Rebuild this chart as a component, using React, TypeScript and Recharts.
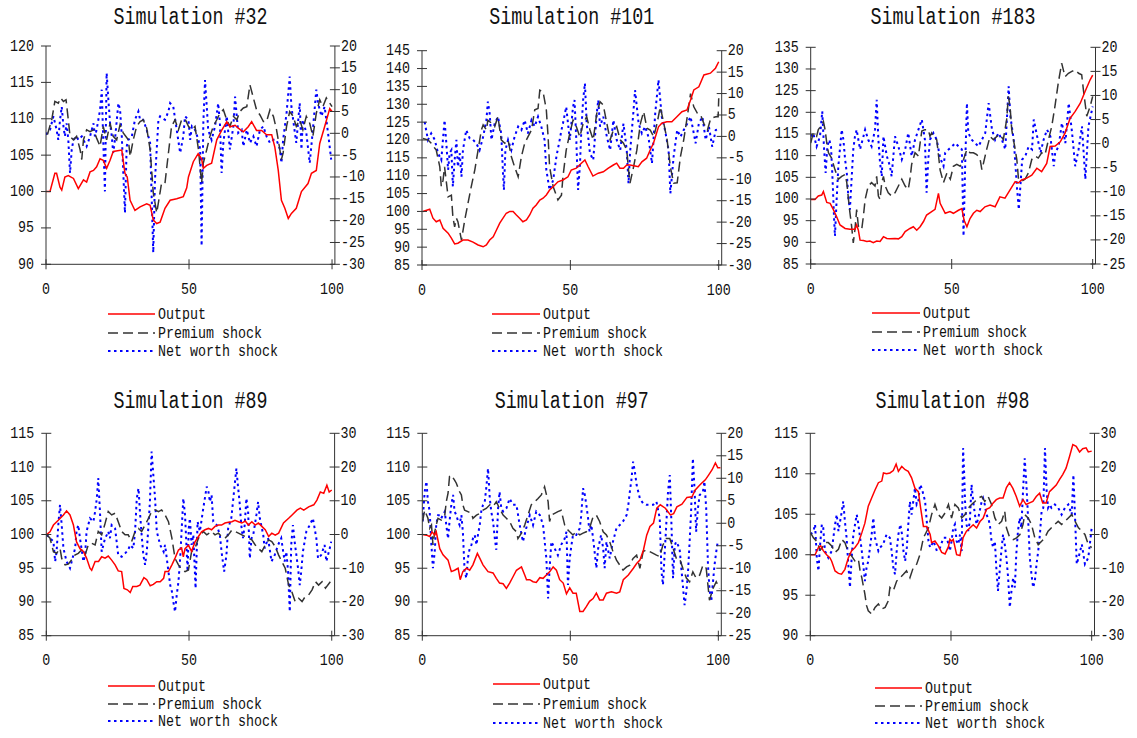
import React from 'react';
import { LineChart, Line, XAxis, YAxis } from 'recharts';

type Pt = [number, number];

// ---------- tick labels ----------
const xTicks = [0, 50, 100];
const sim32LeftTicks = [90, 95, 100, 105, 110, 115, 120];
const sim32RightTicks = [-30, -25, -20, -15, -10, -5, 0, 5, 10, 15, 20];
const sim101LeftTicks = [85, 90, 95, 100, 105, 110, 115, 120, 125, 130, 135, 140, 145];
const sim101RightTicks = [-30, -25, -20, -15, -10, -5, 0, 5, 10, 15, 20];
const sim183LeftTicks = [85, 90, 95, 100, 105, 110, 115, 120, 125, 130, 135];
const sim183RightTicks = [-25, -20, -15, -10, -5, 0, 5, 10, 15, 20];
const sim89LeftTicks = [85, 90, 95, 100, 105, 110, 115];
const sim89RightTicks = [-30, -20, -10, 0, 10, 20, 30];
const sim97LeftTicks = [85, 90, 95, 100, 105, 110, 115];
const sim97RightTicks = [-25, -20, -15, -10, -5, 0, 5, 10, 15, 20];
const sim98LeftTicks = [90, 95, 100, 105, 110, 115];
const sim98RightTicks = [-30, -20, -10, 0, 10, 20, 30];

const seriesNames = ['Output', 'Premium shock', 'Net worth shock'];

// ---------- Simulation #32 ----------
const sim32Output: Pt[] = [[0,100],[1.4,100],[3.1,102.5],[3.7,102.5],[4.9,100.6],[5.5,100.2],[6.6,102],[7.8,102.2],[9.6,101.8],[11.3,100.4],[13.1,101.6],[14.2,101.3],[15.4,102.7],[16.6,102.9],[17.7,103.4],[18.9,104.5],[20,104.3],[21.2,103.2],[22.4,104.3],[23.5,105.5],[26.5,105.7],[27.6,102.5],[28.4,102],[29.4,98.8],[31.1,97.4],[32.9,97.9],[35.2,98.3],[36.4,98.1],[37.5,96.1],[38.7,95.6],[39.9,95.8],[41.6,97.7],[43.4,98.8],[45.7,99],[48,99.3],[49.2,100.5],[49.8,102],[51.5,104.1],[53.2,105.2],[54.4,104.5],[55,103.2],[56.2,103.6],[57.9,103.9],[59.7,107.1],[61.4,108.4],[63.2,109.6],[64.3,108.9],[66.1,109.1],[67.2,108.7],[69,108.2],[70.7,108.9],[71.9,109.6],[73.6,108.4],[75.4,108.4],[77.1,107.8],[78.9,107.8],[80,106.1],[81.2,102.9],[82.3,98.8],[83.5,97.7],[84.7,96.3],[85.8,97],[87.5,97.7],[89.3,100],[91.6,101.1],[92.8,102.5],[94.5,102.9],[95.7,106.6],[97.4,108.9],[99.2,111.4],[100,111]];
const sim32Premium: Pt[] = [[0.5,-0.3],[2,3.1],[3.1,7.3],[4.3,6.9],[5.1,8.1],[6.1,7.3],[7,7.7],[7.8,3.1],[8.4,-0.7],[9.6,-1.5],[10.7,-0.7],[11.9,-3.7],[12.5,-6],[13.1,-1.5],[14.2,0.8],[15.4,0.4],[16.6,0.8],[17.7,-1.1],[18.9,-3],[20,1.6],[21.2,-1.5],[22.4,2.3],[23.5,-0.7],[24.7,-1.5],[25.9,2],[27,0.1],[28.8,-1.5],[29.4,-5.3],[30.5,-1.5],[31.7,1.6],[32.9,2.7],[34,3.1],[35.2,1.2],[36.4,-3.7],[37.5,-13.6],[38.7,-18.2],[39.3,-15.9],[40.4,-11.4],[41.6,-11.4],[42.8,-4.5],[43.9,1.6],[45.1,3.1],[46.3,0.8],[47.4,3.1],[48.6,3.3],[49.8,1.6],[51,0.8],[52.1,1.6],[53.3,-3.7],[54.4,-11.4],[55,-6.8],[56.2,-3.7],[57.3,-0.7],[58.5,1.6],[59.7,3.1],[60.8,4.6],[62,5.4],[63.2,3.1],[64.3,1.6],[65.5,3.9],[66.7,3.1],[67.8,5],[69,5.8],[70.2,6.1],[71.3,11.1],[72.5,8.1],[73.6,5.4],[74.8,4.2],[76,2.7],[77.1,2.7],[78.3,5.4],[79.5,3.9],[80.6,0.8],[81.2,-1.5],[82.3,-6],[82.9,-4.5],[84.1,1.6],[85.2,5],[86.4,3.9],[87.5,1.6],[88.7,3.1],[89.8,0.8],[91,3.9],[92.2,2.3],[93.3,-0.7],[94.5,4.6],[95.7,7.7],[96.8,6.1],[98,8.1],[99.2,6.9],[100,6.1]];
const sim32NetWorth: Pt[] = [[0,-0.3],[1.4,0.8],[2.6,3.9],[3.7,0.8],[4.3,-1.5],[4.9,3.1],[5.5,6.1],[6.1,1.6],[6.6,-0.7],[7.2,2.3],[7.8,-1.5],[8.4,-9.1],[9,-3.7],[9.6,-1.5],[10.7,-0.7],[11.3,-1.5],[12.5,-0.7],[13.1,-1.5],[14.2,-3],[15.4,-0.7],[16.6,2.3],[17.1,-0.7],[17.7,0.8],[18.9,5.4],[19.5,10],[20,-1.5],[20.6,-13.3],[21.2,13.8],[21.8,7.7],[22.4,2.3],[23,-0.7],[23.5,-4.5],[24.1,-1.5],[24.7,2.7],[25.3,6.9],[25.9,5.4],[26.5,-0.7],[27.6,-18.2],[28.2,-3],[28.8,-1.5],[30,-0.7],[31.1,3.1],[32.3,5],[32.9,3.1],[34,3.1],[35.2,0.8],[36.4,-2.2],[37.5,-27.3],[38.1,-10.6],[39.3,3.1],[39.9,3.9],[41.6,3.1],[42.8,5],[43.4,6.9],[44.5,6.1],[45.7,0.8],[46.9,-4.5],[48,-0.7],[48.6,3.9],[49.8,3.1],[50.4,-1.5],[51,1.6],[52.1,0.8],[53.3,-1.5],[53.9,-3.7],[54.4,-25.8],[55,2.3],[55.6,12.2],[56.2,6.1],[56.7,0.8],[57.9,-1.5],[59.1,1.6],[60.2,6.9],[60.8,2.3],[61.4,-9.1],[62,-2.2],[63.2,3.9],[64.3,-3.7],[65.5,1.6],[66.1,8.4],[66.7,3.9],[67.2,0.1],[68.4,0.8],[69,-3],[70.2,0.8],[71.3,-2.2],[72.5,-0.7],[73.6,-3],[74.8,0.8],[76,1.6],[77.1,-0.7],[78.3,-2.2],[79.5,-1.5],[80.6,-1.5],[81.8,-3.7],[82.3,-6.8],[82.9,-1.5],[84.1,4.6],[85.2,13],[85.8,6.1],[86.4,3.1],[87.5,-2.2],[88.7,6.9],[89.3,-3.7],[89.8,3.1],[91,0.1],[92.2,-6.8],[93.3,0.8],[94.5,10],[95.1,6.9],[96.3,3.9],[97.4,6.1],[98.6,0.1],[99.7,-6]];

// ---------- Simulation #101 ----------
const sim101Output: Pt[] = [[0.3,100],[2.6,100.6],[3.7,98.1],[4.8,97.1],[6,97.6],[7.1,95.3],[8.8,93.9],[9.9,92.5],[11,90.9],[12.1,91.1],[13.8,92],[15.5,92],[17.2,91.4],[18.9,90.6],[20.6,90.1],[21.7,90.6],[22.8,92],[24,92.9],[25.1,94.8],[26.2,96.7],[27.3,98.1],[28.4,99.5],[29.6,100],[30.7,100],[31.8,99],[32.9,98.1],[34,97.1],[35.2,97.6],[36.3,99],[37.4,100.9],[38.5,101.8],[39.7,103.2],[40.8,103.7],[41.9,104.6],[43,106],[44.2,106.9],[45.8,108.3],[47.5,108.8],[49.2,109.7],[50.3,111.6],[52,112.1],[53.7,113.5],[54.9,114.4],[56,112.5],[57.6,109.9],[59.4,110.7],[61.1,111.1],[62.8,112.1],[64.5,113],[65.6,113.5],[66.7,112.1],[67.9,112.1],[69,113],[70.1,113],[71.8,112.7],[72.9,112.5],[74.1,113.9],[75.7,114.9],[76.9,117.2],[78,119.1],[79.7,123.7],[80.8,124.7],[82.5,125.1],[84.2,125.1],[85.9,126.5],[87.6,127.9],[89.3,128.4],[90.5,131.2],[91.6,134],[93.3,134.9],[95,138.2],[97.2,138.7],[98.9,140.1],[100,141.9]];
const sim101Premium: Pt[] = [[0.3,-0.5],[2,-0.8],[3.1,-1.6],[4.8,-3.2],[6,-7.1],[6.5,-11.7],[7.1,-10.2],[7.6,-7.1],[8.8,-14.1],[9.9,-13.7],[10.4,-18.7],[11,-21.1],[11.6,-19.1],[12.1,-19.9],[13.3,-24.2],[14.4,-19.5],[15.5,-15.6],[16.6,-11.7],[17.8,-7.8],[18.9,-3.2],[20,1.5],[20.6,2.7],[21.7,1.5],[22.2,3.8],[23.4,3.1],[24.5,2.3],[25.6,4.6],[26.7,-0.8],[27.9,-1.6],[29,-0.8],[30.1,-4.7],[31.2,-7.1],[32.4,-9.4],[33.5,-4.7],[34.6,-1.6],[35.7,-0.1],[36.9,1.5],[38,6.2],[39.1,6.5],[39.7,10.8],[40.8,10.4],[41.9,6.2],[42.5,-0.1],[43,-7.1],[44.2,-11.7],[45.8,-14.8],[47,-13.7],[47.5,-9.4],[48.6,-3.2],[49.8,0.7],[50.9,3.8],[52,2.3],[53.2,-0.1],[54.3,3],[55.5,4.6],[56.6,1.5],[57.7,-0.8],[58.9,5.4],[60,8.1],[61.1,7.3],[62.3,3],[63.4,-0.8],[64.5,1.5],[65.6,2.3],[66.8,-0.8],[67.9,-1.6],[69,-3.2],[69.6,-7.8],[70.1,-10.9],[71.3,-7.1],[72.4,-3.2],[73.6,3],[74.7,5.8],[75.8,1.9],[76.9,1.5],[78.1,-0.1],[79.2,3],[80.3,6.9],[81.5,3],[82.6,-0.8],[83.7,-7.1],[84.8,-10.9],[86,-10.8],[87.1,-4.7],[88.2,-0.8],[89.4,4.6],[90.5,10],[91.6,6.9],[92.8,5.4],[93.9,5],[95,3],[96.2,1.5],[97.3,4.2],[99,4.6],[99.8,4.6],[100,8.9]];
const sim101NetWorth: Pt[] = [[0.9,3.4],[2,-0.8],[3.1,0.7],[4.3,-0.8],[5.4,-3.9],[6.5,-5.5],[7.6,3.8],[8.2,-1.6],[8.8,-7.8],[9.3,-3.9],[9.9,-3.2],[10.4,-11.7],[11,-5.5],[11.6,-0.8],[12.1,-7.1],[12.7,-3.9],[13.3,-9.4],[13.8,-3.2],[14.9,1.5],[16.1,-0.5],[17.2,-0.8],[18.3,-1.6],[19.4,-3.2],[20.6,-0.1],[21.7,3.8],[22.2,8.1],[22.8,5.4],[23.4,-0.8],[24.5,3],[25.6,4.6],[26.7,0.7],[27.3,-8.6],[27.6,-12.5],[28.1,-3.2],[29,-0.8],[30.1,-3.2],[31.2,-0.1],[32.4,2.3],[33.5,1.5],[34.6,3.8],[35.7,0.7],[36.9,3.8],[38,2.3],[39.1,4.6],[40.2,2.3],[41.3,-0.8],[41.9,-7.8],[43,-12.5],[44.2,-10.2],[45.3,-4.7],[46.4,-0.8],[47,1.5],[47.5,3],[48.6,6.9],[49.8,-0.8],[50.9,6.9],[51.4,8.5],[52,-0.8],[52.6,-12.5],[53.2,-7.1],[53.7,1.5],[54.3,8.5],[54.9,12.4],[55.5,3],[56.6,-3.9],[57.7,-5.5],[58.9,5.4],[59.4,8.5],[60,2.3],[61.1,4.6],[62.3,-0.1],[63.4,-3.2],[64.5,3.8],[65.6,-0.8],[66.8,-3.2],[67.9,3],[69,-3.2],[69.6,-11],[70.1,-3.9],[71.3,6.2],[71.8,10.8],[73,3],[74.1,0.7],[75.2,2.3],[76.3,-0.1],[77.5,-6.3],[78.6,5.4],[79.7,13.2],[80.8,4.6],[81.9,1.5],[83.1,-3.2],[83.7,-13.3],[84.8,-4.7],[86,1.5],[87.1,-0.1],[88.2,1.5],[89.4,3],[90.5,4.6],[91.6,0.7],[92.2,-1.6],[93.3,3],[94.5,4.6],[95.6,-0.8],[96.7,2.3],[97.8,-2.4],[99,1.5],[100,1.7]];

// ---------- Simulation #183 ----------
const sim183Output: Pt[] = [[0,99.9],[1.5,99.9],[2.7,100.7],[3.9,100.9],[4.5,101.7],[5.7,99.2],[6.9,99],[8,97.6],[9.2,95.9],[10.4,94],[12.2,93.2],[13.9,93],[15.7,93],[16.3,94],[16.9,92.8],[17.5,90.5],[18.7,90.4],[19.9,90.2],[21,90.3],[22.2,89.9],[23.4,90.3],[24.6,90.2],[25.8,91.3],[27,90.9],[28.1,90.8],[29.9,90.9],[31.1,90.8],[32.3,91.3],[33.5,92.5],[35.2,93.2],[36.4,93.6],[37.6,92.8],[38.8,93.6],[40,94.8],[41.1,96.3],[42.9,97.1],[44.1,97.6],[45.3,101.3],[45.9,99],[47.7,96.7],[49.4,97.1],[50.6,96.7],[52.4,97.4],[53.6,97.8],[54.4,95.1],[55.4,93.6],[56.5,95.5],[57.7,96.7],[58.9,97.4],[60.1,97.1],[61.8,98.2],[63.6,98.6],[65.4,98.2],[67.1,100.5],[68.9,100.2],[70.7,102.1],[72.5,104],[73.6,103.7],[74.8,104.4],[76.6,104.8],[78.4,105.5],[80.2,107.1],[81.9,106.3],[83.7,108.2],[84.9,112.1],[86.7,112.2],[88.5,113.2],[90.2,115.2],[92,118.6],[93.8,120.2],[95.6,122.1],[97.3,124.8],[99.1,127.5],[100,128.6]];
const sim183Premium: Pt[] = [[0,0.1],[0.9,2.2],[2.1,1.5],[2.7,2.9],[3.9,3.9],[4.5,4.6],[5.1,2.9],[5.7,0.1],[6.3,-1.9],[7.4,-3],[8.6,-5.4],[9.8,-7.4],[11,-6.8],[12.2,-6.4],[12.8,-8.1],[13.4,-11.6],[13.9,-14.3],[14.5,-17.1],[15.1,-20.6],[15.7,-17.8],[16.3,-13.7],[16.9,-17.1],[18.1,-17.8],[18.7,-15],[19.3,-11.6],[20.4,-8.8],[21.6,-8.1],[22.8,-8.8],[23.4,-6.8],[24,-10.9],[24.6,-11.6],[25.2,-8.1],[25.8,-6.8],[26.4,-8.8],[27.5,-10.2],[28.7,-10.9],[29.9,-10.2],[31.1,-8.8],[32.3,-7.4],[33.5,-8.8],[34.6,-9.5],[35.2,-7.4],[35.8,-4.3],[37,-1.9],[38.2,-2.6],[38.8,0.1],[39.4,2.6],[40.5,2.9],[41.7,2.9],[42.3,1.5],[42.9,2.2],[43.5,1.5],[44.7,0.8],[45.9,-5.5],[47.1,-8.1],[48.3,-6.1],[49.5,-7.4],[50.6,-4.7],[51.8,-4.3],[53,-4.7],[54.2,-3.3],[55.4,-1.2],[56.5,-1.9],[57.7,-1.9],[58.9,-2.3],[60.1,-3.3],[60.7,-5.4],[61.3,-4],[62.4,-1.2],[63.6,1.5],[64.8,0.8],[66,1.5],[67.1,1.9],[68.3,0.8],[69.5,5],[70.1,9.8],[70.7,7.7],[71.3,2.9],[72.5,-1.2],[73.1,-3.3],[73.7,-7.4],[74.8,-7.8],[76,-7.4],[77.2,-6.1],[78.4,-3.3],[79.6,-2.6],[80.7,-3],[81.9,-1.9],[83.1,-2.3],[84.3,0.8],[85.5,3.6],[86.6,7.7],[87.8,12.6],[89,16.7],[90.2,13.9],[91.4,14.6],[92.6,15],[93.8,15.3],[95,14.6],[96.1,14.3],[96.7,11.2],[97.9,5.7],[99.1,7.7],[100,9.8]];
const sim183NetWorth: Pt[] = [[0,1.5],[0.9,2.2],[2.1,-0.6],[3.3,1.5],[4.1,6.7],[4.7,-0.6],[5.3,-6.1],[5.9,-0.6],[6.6,0.8],[7.2,-0.6],[7.8,-8.1],[8.3,-15.7],[8.6,-19.2],[9.2,-11.6],[9.8,-4.7],[11,2.9],[11.6,0.8],[12.2,-3.3],[12.8,-6.1],[13.4,-11.6],[13.9,-13.7],[14.5,-7.4],[15.1,-1.2],[15.7,1.5],[16.3,2.9],[16.9,0.8],[17.5,-1.2],[18.7,1.5],[19.3,2.9],[20.4,0.8],[21.6,-0.6],[22.8,2.9],[23.4,9.1],[24,0.8],[24.6,-4],[25.2,-6.8],[25.8,1.5],[27,-2.6],[28.1,-4.7],[28.7,-6.8],[29.9,1.5],[31.1,-0.6],[32.3,-3.3],[33.5,-1.2],[34.6,2.2],[35.8,-2.6],[37,0.8],[38.2,2.9],[39.4,5],[40.5,0.8],[41.1,-10.2],[41.7,-3.3],[42.3,0.8],[43.5,2.2],[44.7,0.8],[45.9,-3],[47.1,-4.7],[47.7,-1.9],[48.9,-1.2],[50.1,-0.6],[51.3,0.1],[52.5,-0.6],[53.6,-1.2],[54.2,-19.2],[54.8,-4],[55.4,8.4],[55.9,2.2],[57.1,0.8],[58.3,0.1],[59.5,-0.6],[60.7,0.8],[61.9,2.2],[63.1,8.4],[64.3,2.9],[65.4,0.8],[66.6,2.2],[67.8,0.8],[69,-1.2],[70.2,11.9],[70.8,5.7],[72,0.8],[73.2,-9.5],[73.8,-13.7],[75,-3.3],[76.1,-2.6],[77.3,-0.6],[78.5,-1.2],[79.1,5],[80.3,1.5],[81.5,-1.9],[82.6,0.8],[83.8,2.9],[85,1.5],[86.2,-4.7],[86.7,-1.9],[87.9,-0.6],[89.1,4.3],[90.3,0.1],[91.5,8.4],[92.7,2.2],[93.8,-4.7],[95,-1.2],[96.2,3.6],[97.4,-7.4],[98.5,3.6],[100,7.7]];

// ---------- Simulation #89 ----------
const sim89Output: Pt[] = [[0.1,100],[1.3,100.4],[2.5,101.4],[4.2,102.1],[6,102.9],[7.1,103.5],[8.3,102.9],[9.5,101.4],[10.6,98.9],[11.8,97.9],[13,97.5],[14.1,96.5],[15.3,95],[15.9,94.7],[17.1,96],[18.3,96],[19.4,96.7],[20.6,96.5],[21.7,96.8],[22.9,96.2],[24.1,95.5],[25.2,94.6],[26.4,94.5],[27.2,92],[28.4,91.8],[29.4,91.4],[30.3,92.3],[31.7,92.3],[32.8,92.5],[34.2,93.6],[35.2,93.3],[36.4,92.4],[37.5,92.6],[38.7,93],[39.9,93],[41.1,93.5],[41.6,94.5],[42.8,94.5],[44,95.5],[45.1,96.5],[46.3,97.7],[47.4,98],[48,96.7],[48.6,97.9],[49.8,98.4],[50.9,97.5],[52.1,98.9],[53.3,99.7],[54.4,100.4],[55.6,100.7],[56.8,100.9],[57.9,100.7],[59.1,101.2],[60.3,101.4],[61.4,101.4],[62.6,101.7],[63.8,101.8],[65,101.9],[66.1,102.1],[67.3,101.9],[68.5,101.7],[69.7,102],[70.8,101.4],[72,101.9],[73.2,101.4],[74.3,101.7],[75.5,101.2],[76.7,100.7],[77.9,99.7],[79,100.2],[80.2,99.9],[81.4,100.2],[83.1,101.7],[84.9,102.4],[86.1,102.9],[87.8,103.6],[89,103.9],[90.2,103.6],[91.9,104.1],[93.7,104.4],[94.8,105.1],[96,106.3],[97.2,106.1],[98.3,107.3],[99.1,106.3],[100,106.6]];
const sim89Premium: Pt[] = [[0.1,0],[1.3,-1.1],[2.5,-5.1],[3.6,-5.6],[4.8,-4.1],[5.4,-7.1],[6.6,-9],[7.7,-8.8],[8.9,-7.5],[10,-6.1],[11.2,-5.6],[12.4,-4.6],[13.6,-6.1],[14.7,-3.1],[15.9,-2.6],[17.1,-3.1],[18.2,0.9],[19.4,-0.1],[20.6,3.3],[21.7,6.8],[22.9,5.8],[24.1,6.3],[25.2,3.8],[26.4,0.9],[27.6,-0.1],[28.7,-0.1],[29.9,-2.1],[31.1,0.9],[32.3,1.8],[33.4,0.9],[34.6,2.8],[35.8,4.8],[36.9,6.8],[38.1,7.3],[39.3,6.8],[40.4,7.3],[41.6,5.8],[42.8,3.8],[44,-1.1],[45.1,-7.1],[46.3,-9],[47.5,-10.5],[48.6,-11],[49.8,-10.5],[50.9,-5.1],[52.1,-4.1],[53.3,-1.1],[55,0.9],[56.2,-0.1],[57.9,0.9],[59.1,-0.1],[60.3,0.4],[61.4,-0.6],[62.6,-1.1],[63.8,-0.1],[65,1.3],[66.1,0.9],[67.3,0.4],[68.5,-0.1],[69.7,-0.6],[70.8,-1.1],[72,-1.6],[73.2,-3.1],[74.3,-4.1],[75.5,-5.1],[76.7,-3.1],[77.9,-1.6],[79,-2.1],[80.2,-3.6],[81.4,-6.1],[82.5,-8],[83.7,-10],[84.9,-15],[86,-16.9],[87.2,-19.9],[88.4,-18.9],[89.6,-19.9],[90.7,-18.4],[91.9,-17.9],[93.1,-16.4],[94.3,-14],[95.4,-15],[96.6,-14],[97.8,-15.9],[99.5,-14]];
const sim89NetWorth: Pt[] = [[0.1,-0.1],[1.3,-1.1],[2.5,-2.1],[3.1,-8],[3.6,-5.1],[4.2,2.8],[4.8,8.8],[5.4,2.8],[6,-4.1],[7.1,-8],[8.3,-10],[8.9,-8],[10.1,-4.1],[10.6,0.9],[11.2,2.8],[11.8,-1.1],[13,-8],[13.6,-6.1],[14.1,0.9],[15.3,4.8],[16.5,3.8],[17.1,6.8],[17.7,10.7],[18.2,16.7],[18.8,6.8],[19.4,-5.1],[20,-3.1],[20.6,-1.1],[21.2,-0.1],[21.7,0.9],[22.3,-1.1],[22.9,2.8],[24.1,1.8],[25.2,-6.1],[26.4,-6.6],[27.6,-5.6],[28.7,-4.6],[29.3,-3.1],[30.5,-4.1],[31.1,0.9],[31.7,10.7],[32.3,13.7],[32.8,6.8],[33.4,-0.1],[34,-6.1],[34.6,-9],[35.2,-5.1],[35.8,2.8],[36.3,9.7],[36.9,24.6],[37.5,17.6],[38.1,10.7],[38.7,0.9],[39.9,-3.1],[41.1,-5.1],[41.6,-3.1],[42.8,-11],[43.4,-15],[44,-16.9],[44.5,-19.9],[45.1,-22.9],[45.7,-17.9],[46.3,-14],[46.9,-7.1],[47.5,2.8],[48,10.7],[48.6,5.8],[49.2,-5.1],[49.5,-11],[49.9,1.8],[50.3,4.8],[50.9,-3.1],[51.5,-0.1],[52.1,-12],[52.3,-16],[53,3.8],[53.8,0.9],[55,7.8],[56.2,14.2],[56.8,12.7],[57.3,9.7],[57.9,11.7],[58.5,3.8],[59.7,2.8],[60.8,-0.1],[61.4,-5.1],[62.3,-11],[63.1,-6.1],[63.7,1.8],[64.8,4.8],[65.4,9.7],[66.6,19.6],[67.1,14.7],[67.7,9.7],[68.3,2.8],[68.9,-1.1],[69.5,2.8],[70.1,10.7],[70.7,6.8],[71.3,-7.1],[71.9,-1.1],[72.5,-0.1],[73.6,5.8],[74.2,9.7],[74.8,4.8],[76,-0.1],[76.5,-4.1],[77.7,-1.1],[78.9,-8],[80,-6.1],[81.2,-3.1],[82.3,-1.1],[83.5,-8],[84.1,-5.1],[84.7,-11],[85.3,-22.9],[85.8,-3.1],[86.4,2.8],[87,-2.1],[88.2,-10],[88.8,-15],[89.3,-11],[89.9,-5.1],[91.1,0.9],[92.3,2.8],[93.4,4.8],[94.6,-1.1],[95.2,-7.1],[96.3,-6.1],[97.5,-3.1],[98.1,-8],[99.3,-4.1],[99.8,-2.1]];

// ---------- Simulation #97 ----------
const sim97Output: Pt[] = [[0.1,100],[1.4,99.9],[2.5,99.7],[3.3,100.4],[4.2,99.9],[4.7,100.4],[5.9,97.9],[7,97],[8.7,96.2],[9.8,94.5],[10.9,94.7],[12.1,95],[12.8,93.3],[13.7,94.5],[14.9,95],[16,94.7],[17.1,95.5],[18.6,97.2],[19.4,96.5],[20.5,95.5],[22.2,94.5],[23.9,94.3],[25,93.5],[26.1,92.8],[27.3,92.7],[28.4,92],[29.5,92.8],[30.6,93.7],[31.8,94.7],[33.5,95.2],[34.6,94],[35.2,93.3],[36.3,93.3],[37.4,93],[38.5,92.9],[39.7,93.6],[40.8,93.5],[41.9,94],[43.1,94.5],[44.2,95.2],[45.3,94.7],[46.4,93.3],[47.6,92.8],[48.7,91.2],[49.8,92.1],[50.9,91.3],[52,91.3],[53.2,88.6],[54.3,88.6],[55.4,89.3],[56.5,90.1],[57.7,90.5],[58.8,91.3],[59.9,90.3],[61.1,90.3],[62.2,91.3],[63.9,91.5],[65.6,91.3],[66.7,91.5],[67.9,93.3],[69.6,94],[71.3,95],[72.4,95.7],[73.5,96.2],[74.7,97.7],[75.8,99.9],[76.9,101.2],[78.1,101.7],[79.2,103.9],[80.4,104.4],[82.1,103.9],[83.8,102.9],[84.9,103.1],[86,104.1],[87.7,104.5],[89.4,105.5],[91.1,105.6],[92.2,106.6],[93.9,107.4],[95.6,108.1],[96.7,108.8],[97.9,109.6],[99,110.6],[99.8,109.9],[100.7,109.9]];
const sim97Premium: Pt[] = [[0.1,0.4],[0.8,2.9],[1.9,1.1],[2.5,-1.1],[3.1,-0.4],[3.6,-4.8],[4.2,-1.9],[4.7,-0.4],[5.3,1.1],[6.4,0.7],[7.6,1.8],[8.1,4.8],[8.7,6.7],[9.2,10.4],[9.8,10.7],[10.9,9.6],[11.5,8.9],[12.6,7],[13.2,6.3],[13.7,4.1],[14.3,2.9],[15.4,2.6],[16.6,2.2],[17.1,1.1],[18.3,1.8],[19.4,2.2],[20.5,2.9],[21.6,3.3],[22.8,4.1],[23.9,3.7],[25,4.8],[26.1,3.3],[27.3,1.8],[28.4,1.1],[29.5,0.4],[30.6,-1.1],[31.8,-1.9],[32.3,-3.4],[33.5,-2.2],[34.6,-0.4],[35.7,1.8],[36.8,4.1],[38,4.8],[39.1,5.5],[40.2,6.3],[41.3,8.1],[42.5,4.8],[43,0.4],[43.6,1.8],[44.7,2.2],[45.8,2.6],[46.9,2.9],[48.1,-0.4],[49.2,-1.5],[49.8,-1.9],[50.9,-2.6],[52,-1.9],[53.2,-2.6],[54.3,-2.2],[55.4,-1.9],[56.5,-1.1],[57.7,1.5],[58.8,1.8],[59.9,0.4],[61.1,-1.9],[62.2,-2.6],[63.3,-4.1],[64.4,-6.3],[65.6,-8.2],[66.7,-9.3],[67.8,-10.4],[69,-9.7],[70.1,-9.3],[71.2,-7.8],[72.4,-7.1],[73.5,-10],[74.6,-6.3],[75.7,-5.9],[76.8,-6.3],[78,-6.7],[79.1,-7.1],[80.2,-7.4],[81.3,-4.8],[82.4,-3.4],[83.6,-3.4],[84.7,-5.6],[85.8,-7.8],[86.9,-7.8],[88,-10],[89.2,-12.2],[90.3,-13],[91.4,-10.8],[92.5,-12.2],[93.7,-11.5],[94.8,-9.3],[95.9,-10],[97,-17.1],[98.2,-14.5],[99.3,-13],[100.4,-14.5]];
const sim97NetWorth: Pt[] = [[0.1,0.4],[0.8,7],[1.4,9.3],[1.9,4.8],[2.5,2.6],[3,-4.1],[3.6,-10],[4.2,-6.3],[4.7,-0.4],[5.3,1.8],[5.9,1.8],[6.4,1.1],[7.6,2.6],[8.1,-0.4],[8.7,-3.4],[9.2,0.4],[9.8,4.1],[10.4,6.3],[10.9,2.6],[11.5,1.8],[12.1,0.4],[12.6,-0.4],[13.2,1.8],[13.7,-1.9],[14.3,-10.8],[14.9,-12.2],[15.4,-7.8],[16,-5.6],[16.6,-4.8],[17.1,-3.4],[17.7,-2.6],[18.3,-4.8],[18.8,-2.6],[19.4,-0.4],[19.9,2.6],[20.5,4.1],[21.1,4.8],[21.6,7.8],[22.2,12.2],[22.8,5.5],[23.3,2.6],[23.9,0.4],[24.5,-3.4],[25,-5.9],[25.6,3.3],[26.1,7],[26.7,3.3],[27.3,2.6],[28.4,3.3],[29.5,5.5],[30.6,4.1],[31.8,4.1],[32.9,-0.4],[34,-4.1],[35.1,-1.1],[36.3,1.8],[37.4,-0.4],[38.5,2.6],[39.7,1.8],[40.8,-0.4],[41.9,-7.8],[42.5,-16.7],[43,-10],[43.6,-4.1],[44.7,-5.6],[45.8,-7.1],[46.9,-4.8],[48.1,-3.4],[48.7,-1.9],[49.2,-13.7],[49.8,-7.8],[50.4,-4.8],[50.9,-2.6],[52,-2.6],[53.2,-1.1],[53.7,1.8],[54.3,7.8],[54.9,6.3],[55.4,4.1],[56,1.1],[56.5,-1.9],[57.1,-0.4],[57.7,-3.4],[58.2,-6.3],[58.8,-10],[59.4,-5.6],[59.9,-4.1],[60.4,-2.6],[61.1,-5.6],[61.6,-10],[62.2,-4.1],[63.3,-7.8],[64.4,-4.1],[65.6,-1.1],[66.7,-0.4],[67.8,0.4],[69,1.8],[69.6,4.1],[70.1,7],[70.7,10],[71.2,13.7],[71.8,11.5],[72.4,8.5],[73.5,5.5],[74.6,4.4],[75.7,4.1],[76.8,4.1],[78,4.1],[79.1,4.8],[80.2,1.1],[80.8,-10.8],[81.3,-13.7],[81.9,-6.3],[82.4,-0.4],[83,7],[83.6,10.7],[84.1,1.1],[84.7,-12.2],[85.3,-4.8],[85.8,-4.1],[86.9,-5.6],[88,-13.7],[88.6,-18.2],[89.2,-15.2],[89.7,-11.5],[90.3,-4.1],[90.8,2.6],[91.4,14.4],[92,7],[92.5,-1.9],[93.1,3.3],[93.7,6.3],[94.8,7],[95.3,9.3],[95.9,3.3],[96.5,-9.3],[97,-14.5],[97.6,-17.4],[98.2,-13],[98.7,-9.3],[99.3,-6.3],[99.8,-4.1]];

// ---------- Simulation #98 ----------
const sim98Output: Pt[] = [[0.1,100],[1.7,100],[2.9,100.9],[3.7,101.1],[4.6,100.5],[5.8,100],[7,99.6],[7.6,99.2],[8.8,98],[10,97.7],[11.1,97.6],[12.3,98.2],[13.5,99.6],[14.7,100.5],[15.9,100.9],[17.1,101.5],[18.3,102.7],[19.4,103.9],[20.6,106],[21.8,107],[23,108],[24.2,108.9],[25.4,109.1],[26,110.1],[27.1,110],[28.3,110.1],[29.5,110.4],[30.5,111.2],[31.3,110.3],[32.5,110.9],[33.7,110.5],[34.8,110.3],[36,109.5],[37.2,108.2],[38.4,107.8],[39.2,105.8],[40.2,103.5],[41.4,103.5],[42.6,102.5],[43.1,101.5],[44.3,101.7],[45.5,101.1],[46.7,100.3],[47.9,100.1],[49.1,101],[49.6,101.9],[50.2,101.7],[50.8,101.9],[52,100],[53.2,99.9],[54.3,102.1],[55.5,102.9],[56.7,103.3],[57.9,103.7],[59.1,103.3],[60.3,104.1],[61.4,104.5],[62.6,105.6],[63.8,105.8],[65,106.4],[66.1,106.8],[67.3,107],[68.5,107],[69.7,108.3],[70.8,108.9],[72,108.2],[73.2,107.2],[74.4,106],[75.6,106.8],[76.7,106.2],[77.9,106.4],[79.1,106.6],[80.3,107.2],[81.5,107.6],[82.6,106.4],[83.8,106.4],[85,107.8],[86.2,108.2],[87.4,108.6],[88.6,109.3],[89.7,109.9],[90.9,110.7],[92.1,112.1],[93.3,113.6],[94.5,113.4],[95.7,112.7],[96.8,113.1],[98,113.2],[98.8,112.7],[100,112.8]];
const sim98Premium: Pt[] = [[0.1,0.5],[1.1,-1],[2.3,-2],[3.5,-4.6],[4.1,-4.1],[5.2,-2.4],[6.4,-2.4],[7.6,-3.4],[8.8,-5.3],[10,-4.4],[11.2,-1.5],[12.3,-2.4],[13.5,-5.3],[14.7,-6.4],[15.9,-7.9],[17.1,-7.4],[17.7,-10.8],[18.3,-12.8],[19.4,-17.7],[20,-21.1],[20.6,-22.6],[21.8,-23.6],[23,-21.6],[24.2,-20.6],[25.4,-22.1],[26.6,-21.6],[27.7,-19.7],[28.3,-15.7],[29.5,-16.7],[30.7,-13.8],[31.9,-12.8],[33.1,-11.8],[34.2,-10.8],[35.4,-12.8],[36.6,-9.8],[37.8,-8.8],[39,-5.9],[40.2,-1],[40.8,0],[42,2],[43.1,5.9],[44.3,8.9],[45.5,5.9],[46.7,4.9],[47.9,6.4],[49.1,8.9],[50.2,4.9],[51.4,8.9],[52.6,7.9],[53.8,4.9],[55,5.9],[56.2,7.9],[57.3,8.9],[58.5,9.8],[59.7,10.8],[60.9,11.3],[62,9.8],[63.2,11.3],[64.4,8.9],[65.6,4.9],[66.8,3],[68,3.9],[69.1,6.9],[69.7,2],[70.9,-1],[72.1,-1.5],[73.3,-1],[74.5,0],[75.6,3],[76.2,5.9],[77.4,4.9],[78.6,3],[79.8,-1],[81,-3],[82.2,-2],[83.3,-1],[84.5,1],[85.7,2],[86.9,3],[88.1,3.9],[89.3,3],[90.5,3.9],[91.7,4.9],[92.9,5.9],[94.1,3.9],[95.3,2],[96.5,1],[97.6,0],[98.8,-3],[100,-3.9]];
const sim98NetWorth: Pt[] = [[0.1,0],[1.1,1],[1.7,3],[2.3,-6.9],[2.9,-10.8],[3.4,-3.9],[4.1,3],[4.6,2],[5.2,-4.9],[6.4,-6.9],[7.6,-4.9],[8.8,3],[9.4,5.9],[10,1],[11.2,6.9],[11.7,9.8],[12.3,3.9],[12.9,-1],[13.5,-8.8],[14.1,-15.7],[14.7,-6.9],[15.3,0],[15.9,3],[16.5,5.9],[17.1,3],[17.7,-1],[18.3,-4.9],[18.8,-8.8],[19.4,-13.8],[20,-9.8],[20.6,-7.9],[21.2,-3.9],[21.8,0],[22.4,4.9],[23,-1],[24.2,-4.9],[24.8,-3.9],[25.9,-2.9],[27.1,0],[28.3,-1],[28.9,-4.9],[29.5,-9.8],[30.1,-11.8],[30.7,-4.9],[31.3,0],[32,3],[32.6,0],[33.1,-4.9],[33.7,-7.9],[34.3,-3.9],[34.9,3.9],[35.4,9.8],[36,5.9],[37.2,13.8],[37.8,8.9],[38.4,9.8],[39,14.8],[39.6,13.8],[40.2,11.8],[40.8,9.8],[41.4,3.9],[42,-2],[42.6,-3.9],[43.8,-2],[45,-4.9],[46.1,-3.9],[47.3,-1],[48.5,-1],[49.1,-2.9],[49.6,-4.9],[50.2,-2],[50.8,2],[51.4,3],[52,-2],[52.6,-2.9],[53.2,0],[53.8,-4.9],[54.3,25.6],[54.7,17.7],[55,9.8],[55.5,3],[56.1,1],[56.7,3.9],[57.3,14.8],[57.9,9.8],[58.5,5.9],[59.1,3],[59.7,4.9],[60.9,9.8],[61.4,10.8],[62,8.9],[62.6,5.9],[63.2,4.9],[63.8,3],[64.4,-2],[65,-3.9],[65.6,-2],[66.1,-9.8],[66.7,-16.7],[67.3,-10.8],[67.9,-4.9],[68.5,0],[69.1,-2.9],[69.7,-6.9],[70.3,-12.8],[70.9,-21.6],[71.5,-16.7],[72.1,-12.8],[72.7,-15.7],[73.2,-5.9],[73.8,1],[74.4,4.9],[75,2],[75.6,12.8],[76.2,22.6],[76.8,14.8],[77.4,4.9],[78,-6.9],[78.6,-11.8],[79.2,-15.7],[79.8,-13.8],[80.4,-8.8],[81,-4.9],[81.6,0],[82.2,6.9],[82.8,7.9],[83.4,25.6],[84,12.8],[84.5,7.9],[85.1,8.9],[85.7,7.9],[86.9,8.9],[88.1,7.9],[89.3,5.9],[90.5,7.9],[91.7,8.9],[92.9,5.9],[93.5,17.7],[94.1,4.9],[94.7,-8.8],[95.3,-6.9],[96.5,-2.9],[97.6,-8.8],[98.8,-6.9],[100,2]];

// ---------- layout / style ----------
const W = 1137;
const H = 738;
const FONT = "'Liberation Mono', 'DejaVu Sans Mono', monospace";
const AXIS = '#333333';
const RED = '#ff0000';
const DARK = '#333333';
const BLUE = '#0000ff';
const BLUE_DASH = '2.5 3.5';
const DARK_DASH = '10 5';

type Layout = { L: number; R: number; T: number; B: number; titleY: number; lx1: number; lx2: number; tx: number; ly: number[] };

type PanelCfg = {
  title: string;
  leftTicks: number[];
  rightTicks: number[];
  output: Pt[];
  premium: Pt[];
  netWorth: Pt[];
  lay: Layout;
};

const panels: PanelCfg[] = [
  { title: 'Simulation #32', leftTicks: sim32LeftTicks, rightTicks: sim32RightTicks, output: sim32Output, premium: sim32Premium, netWorth: sim32NetWorth,
    lay: { L: 46, R: 334.9, T: 46, B: 264.3, titleY: 18, lx1: 108, lx2: 155, tx: 158, ly: [314, 333, 351] } },
  { title: 'Simulation #101', leftTicks: sim101LeftTicks, rightTicks: sim101RightTicks, output: sim101Output, premium: sim101Premium, netWorth: sim101NetWorth,
    lay: { L: 422, R: 721.7, T: 50.7, B: 265, titleY: 18, lx1: 492, lx2: 540, tx: 543, ly: [314, 333, 351] } },
  { title: 'Simulation #183', leftTicks: sim183LeftTicks, rightTicks: sim183RightTicks, output: sim183Output, premium: sim183Premium, netWorth: sim183NetWorth,
    lay: { L: 810.7, R: 1095.5, T: 47.3, B: 264, titleY: 18, lx1: 872, lx2: 920, tx: 923, ly: [313, 332, 350] } },
  { title: 'Simulation #89', leftTicks: sim89LeftTicks, rightTicks: sim89RightTicks, output: sim89Output, premium: sim89Premium, netWorth: sim89NetWorth,
    lay: { L: 46.3, R: 334.6, T: 433.3, B: 635.7, titleY: 402, lx1: 108, lx2: 155, tx: 158, ly: [686, 704, 721] } },
  { title: 'Simulation #97', leftTicks: sim97LeftTicks, rightTicks: sim97RightTicks, output: sim97Output, premium: sim97Premium, netWorth: sim97NetWorth,
    lay: { L: 422.3, R: 721.3, T: 433.3, B: 635.7, titleY: 402, lx1: 493, lx2: 540, tx: 543, ly: [684, 704, 723] } },
  { title: 'Simulation #98', leftTicks: sim98LeftTicks, rightTicks: sim98RightTicks, output: sim98Output, premium: sim98Premium, netWorth: sim98NetWorth,
    lay: { L: 810.3, R: 1094.5, T: 433.3, B: 635.7, titleY: 402, lx1: 875, lx2: 922, tx: 925, ly: [688, 706, 723] } },
];

function MonoText(props: { x: number; y: number; text: string; size: number; cw: number; anchor?: 'start' | 'middle' | 'end' }) {
  const { x, y, text, size, cw, anchor = 'start' } = props;
  return (
    <text x={x} y={y} fontFamily={FONT} fontSize={size} textAnchor={anchor} fill="#111" dominantBaseline="central"
      textLength={text.length * cw} lengthAdjust="spacingAndGlyphs">{text}</text>
  );
}

const toData = (pts: Pt[]) => pts.map(([x, y]) => ({ x, y }));

const AXW = 40;

function Panel({ cfg }: { cfg: PanelCfg }) {
  const { L, R, T, B } = cfg.lay;
  const lDom: [number, number] = [cfg.leftTicks[0], cfg.leftTicks[cfg.leftTicks.length - 1]];
  const rDom: [number, number] = [cfg.rightTicks[0], cfg.rightTicks[cfg.rightTicks.length - 1]];
  const leftTick = (p: any) => (
    <g>
      <line x1={L - 5} x2={L + 5} y1={p.y} y2={p.y} stroke={AXIS} strokeWidth={1} />
      <MonoText x={L - 12} y={p.y} text={String(p.payload.value)} size={17} cw={8} anchor="end" />
    </g>
  );
  const rightTick = (p: any) => (
    <g>
      <line x1={R - 5} x2={R + 5} y1={p.y} y2={p.y} stroke={AXIS} strokeWidth={1} />
      <MonoText x={R + 6} y={p.y} text={String(p.payload.value)} size={17} cw={8} anchor="start" />
    </g>
  );
  const bottomTick = (p: any) => (
    <g>
      <line x1={p.x} x2={p.x} y1={B - 5} y2={B + 5} stroke={AXIS} strokeWidth={1} />
      <MonoText x={p.x} y={B + 25} text={String(p.payload.value)} size={17} cw={8} anchor="middle" />
    </g>
  );
  return (
    <div style={{ position: 'absolute', left: 0, top: 0 }}>
      <LineChart width={W} height={H} margin={{ left: L - AXW, right: W - R - AXW, top: T, bottom: H - B - 30 }}>
        <XAxis xAxisId="x" type="number" dataKey="x" domain={[0, 101]} ticks={xTicks} interval={0} height={30}
          allowDataOverflow axisLine={{ stroke: AXIS }} tickLine={false} tick={bottomTick} />
        <YAxis yAxisId="L" orientation="left" type="number" width={AXW} domain={lDom} ticks={cfg.leftTicks} interval={0}
          allowDataOverflow axisLine={{ stroke: AXIS }} tickLine={false} tick={leftTick} />
        <YAxis yAxisId="R" orientation="right" type="number" width={AXW} domain={rDom} ticks={cfg.rightTicks} interval={0}
          allowDataOverflow axisLine={{ stroke: AXIS }} tickLine={false} tick={rightTick} />
        <Line xAxisId="x" yAxisId="R" data={toData(cfg.netWorth)} dataKey="y" type="linear" stroke={BLUE} strokeWidth={2}
          strokeDasharray={BLUE_DASH} dot={false} activeDot={false} isAnimationActive={false} />
        <Line xAxisId="x" yAxisId="R" data={toData(cfg.premium)} dataKey="y" type="linear" stroke={DARK} strokeWidth={1.5}
          strokeDasharray={DARK_DASH} dot={false} activeDot={false} isAnimationActive={false} />
        <Line xAxisId="x" yAxisId="L" data={toData(cfg.output)} dataKey="y" type="linear" stroke={RED} strokeWidth={1.5}
          dot={false} activeDot={false} isAnimationActive={false} />
      </LineChart>
    </div>
  );
}

function Overlay() {
  return (
    <svg width={W} height={H} style={{ position: 'absolute', left: 0, top: 0, pointerEvents: 'none' }}>
      {panels.map((p, i) => {
        const { L, R, titleY, lx1, lx2, tx, ly } = p.lay;
        return (
          <g key={i}>
            <MonoText x={(L + R) / 2} y={titleY} text={p.title} size={23} cw={11} anchor="middle" />
            <line x1={lx1} x2={lx2} y1={ly[0]} y2={ly[0]} stroke={RED} strokeWidth={1.5} />
            <line x1={lx1} x2={lx2} y1={ly[1]} y2={ly[1]} stroke={DARK} strokeWidth={1.5} strokeDasharray={DARK_DASH} />
            <line x1={lx1} x2={lx2} y1={ly[2]} y2={ly[2]} stroke={BLUE} strokeWidth={2} strokeDasharray={BLUE_DASH} />
            {seriesNames.map((n, k) => (
              <MonoText key={k} x={tx} y={ly[k]} text={n} size={17} cw={8} anchor="start" />
            ))}
          </g>
        );
      })}
    </svg>
  );
}

export default function App() {
  return (
    <div style={{ position: 'absolute', left: 0, top: 0, width: W, height: H, background: '#fff', overflow: 'hidden' }}>
      {panels.map((p, i) => <Panel key={i} cfg={p} />)}
      <Overlay />
    </div>
  );
}
